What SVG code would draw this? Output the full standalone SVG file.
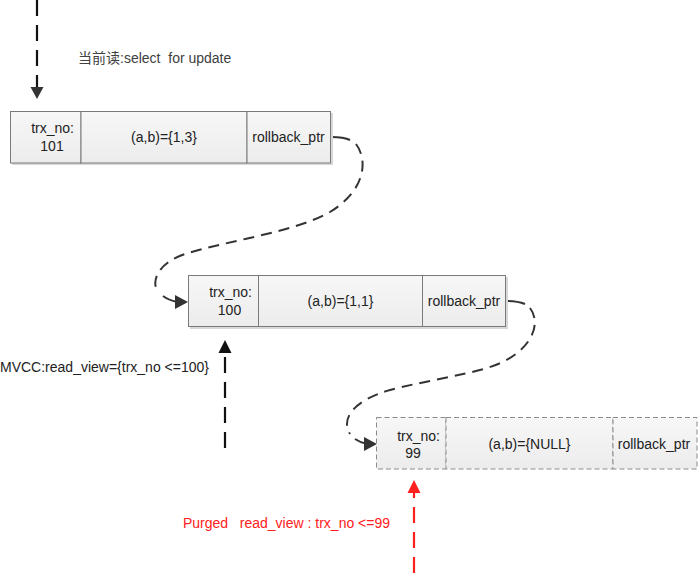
<svg xmlns="http://www.w3.org/2000/svg" width="700" height="573" viewBox="0 0 700 573">
<style>
text{font-family:"Liberation Sans","Noto Sans CJK SC",sans-serif;font-size:14px;fill:#222;white-space:pre}
.c{text-anchor:middle}
.r{text-anchor:end}
.cell{fill:url(#g);stroke:#7a7a7a;stroke-width:1}
.dash{stroke-dasharray:5,3;stroke:#8a8a8a}
.sh{fill:#d8d8d8}
.link{fill:none;stroke:#333;stroke-width:2;stroke-dasharray:11,7}
.solid{fill:none;stroke:#333;stroke-width:2}
.ptr{fill:none;stroke:#111;stroke-width:2.2;stroke-dasharray:16,9}
.red{fill:none;stroke:#ff2020;stroke-width:2.2;stroke-dasharray:16,9}
.lbl{fill:#404040}
.redt{fill:#ff2020}
</style>
<defs>
<linearGradient id="g" x1="0" y1="0" x2="0" y2="1">
<stop offset="0" stop-color="#f7f7f7"/>
<stop offset="1" stop-color="#ececec"/>
</linearGradient>
</defs>

<g id="connectors">
<path class="ptr" d="M37,0 V88"/>
<path d="M30.5,87 L43.5,87 L37,99 z" fill="#333"/>
<path class="ptr" d="M225,448 V352"/>
<path d="M218.5,353 L231.5,353 L225,340 z" fill="#111"/>
<path class="red" d="M414,573 V492"/>
<path d="M407.5,493 L420.5,493 L414,480 z" fill="#ff2020"/>
<path class="solid" d="M331,137 C 340,137 346,138 350,140"/>
<path class="link" d="M356,144 C 368,160 366,190 330,212 C 295,232 230,240 185,254 C 160,262 150,280 158,292"/>
<path class="solid" d="M163,296 C 167,299 172,301 178,302"/>
<path d="M175,295 L188,302 L175,309 z" fill="#333"/>
<path class="solid" d="M506,301 C 515,301 520,302 525,304"/>
<path class="link" d="M530,308 C 543,325 530,355 487,368 C 460,376 420,382 390,390 C 355,400 340,418 350,434"/>
<path class="solid" d="M355,439 C 358,441 362,443 367,444"/>
<path d="M364,437 L377,444 L364,451 z" fill="#333"/>
</g>

<g id="label-current-read">
<text class="lbl" x="78" y="63">当前读:select  for update</text>
</g>

<g id="record-101">
<rect class="sh" x="12" y="113" width="321" height="52"/>
<rect class="cell" x="10.5" y="111.5" width="70.5" height="51.5"/>
<rect class="cell" x="81" y="111.5" width="166" height="51.5"/>
<rect class="cell" x="247" y="111.5" width="83.5" height="51.5"/>
<text class="r" x="74" y="133">trx_no:</text>
<text class="c" x="52" y="151">101</text>
<text class="c" x="164" y="142">(a,b)={1,3}</text>
<text class="c" x="288.5" y="142">rollback_ptr</text>
</g>

<g id="record-100">
<rect class="sh" x="190" y="277" width="318" height="52"/>
<rect class="cell" x="188.5" y="275.5" width="70" height="51"/>
<rect class="cell" x="258.5" y="275.5" width="164" height="51"/>
<rect class="cell" x="422.5" y="275.5" width="83" height="51"/>
<text class="r" x="252" y="297">trx_no:</text>
<text class="c" x="229.5" y="315">100</text>
<text class="c" x="340.5" y="306">(a,b)={1,1}</text>
<text class="c" x="464" y="306">rollback_ptr</text>
</g>

<g id="label-mvcc">
<text x="0" y="372">MVCC:read_view={trx_no &lt;=100}</text>
</g>

<g id="record-99">
<rect class="cell dash" x="376.5" y="417.5" width="69.5" height="51.5"/>
<rect class="cell dash" x="446" y="417.5" width="167" height="51.5"/>
<rect class="cell dash" x="613" y="417.5" width="84" height="51.5"/>
<text class="r" x="440" y="441">trx_no:</text>
<text class="c" x="413" y="458">99</text>
<text class="c" x="529.5" y="449">(a,b)={NULL}</text>
<text class="c" x="654" y="449">rollback_ptr</text>
</g>

<g id="label-purged">
<text class="redt" x="183" y="528">Purged   read_view : trx_no &lt;=99</text>
</g>
</svg>
